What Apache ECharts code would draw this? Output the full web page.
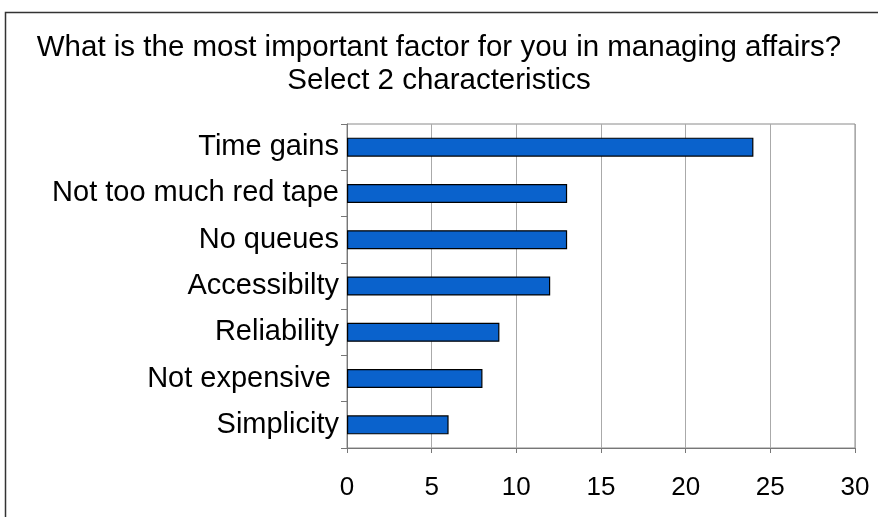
<!DOCTYPE html>
<html>
<head>
<meta charset="utf-8">
<script src="https://cdn.jsdelivr.net/npm/echarts@6/dist/echarts.min.js"></script>
<style>
  html, body { margin: 0; padding: 0; background: #fff; }
  #chart { width: 878px; height: 517px; }
</style>
</head>
<body>
<div id="chart"></div>
<script>
// categories top to bottom
const categories = ['Time gains', 'Not too much red tape', 'No queues', 'Accessibilty', 'Reliability', 'Not expensive ', 'Simplicity']
const values = [24, 13, 13, 12, 9, 8, 6]
const titleLines = ['What is the most important factor for you in managing affairs?', 'Select 2 characteristics']

const chart = echarts.init(document.getElementById('chart'))

const titleStyle = {
  fontSize: 29.5,
  fontWeight: 'normal',
  color: '#000',
  lineHeight: 34,
  fontFamily: 'Liberation Sans, Arial, sans-serif'
}

chart.setOption({
  backgroundColor: '#fff',
  animation: false,
  textStyle: { fontFamily: 'Liberation Sans, Arial, sans-serif' },
  // one title per line so each is centred
  title: [
    { text: titleLines[0], left: 'center', top: 31, padding: 0, textStyle: titleStyle },
    { text: titleLines[1], left: 'center', top: 64, padding: 0, textStyle: titleStyle }
  ],
  // outer frame of the chart
  graphic: [{
    type: 'rect',
    shape: { x: 5.5, y: 12.5, width: 900, height: 600 },
    style: { fill: 'none', stroke: '#333', lineWidth: 1.5 },
    silent: true
  }],
  grid: {
    left: 347,
    top: 124,
    width: 508,
    height: 324,
    show: true,
    borderColor: '#8a8a8a',
    borderWidth: 1
  },
  xAxis: {
    type: 'value',
    min: 0,
    max: 30,
    interval: 5,
    axisLine: { show: true, lineStyle: { color: '#777', width: 1 } },
    axisTick: { show: true, length: 5, lineStyle: { color: '#777' } },
    axisLabel: { fontSize: 26, color: '#000', margin: 27 },
    splitLine: { show: true, lineStyle: { color: '#aaa', width: 1 } }
  },
  yAxis: {
    type: 'category',
    data: categories,
    inverse: true,
    axisLine: { show: true, lineStyle: { color: '#777', width: 1 } },
    axisTick: { show: true, length: 6, lineStyle: { color: '#777' } },
    axisLabel: { fontSize: 29, color: '#000', margin: 8 },
    splitLine: { show: false }
  },
  series: [{
    type: 'bar',
    data: values,
    barWidth: 19,
    itemStyle: {
      color: '#0a62cc',
      borderColor: '#000',
      borderWidth: 1.2
    }
  }]
})
</script>
</body>
</html>
